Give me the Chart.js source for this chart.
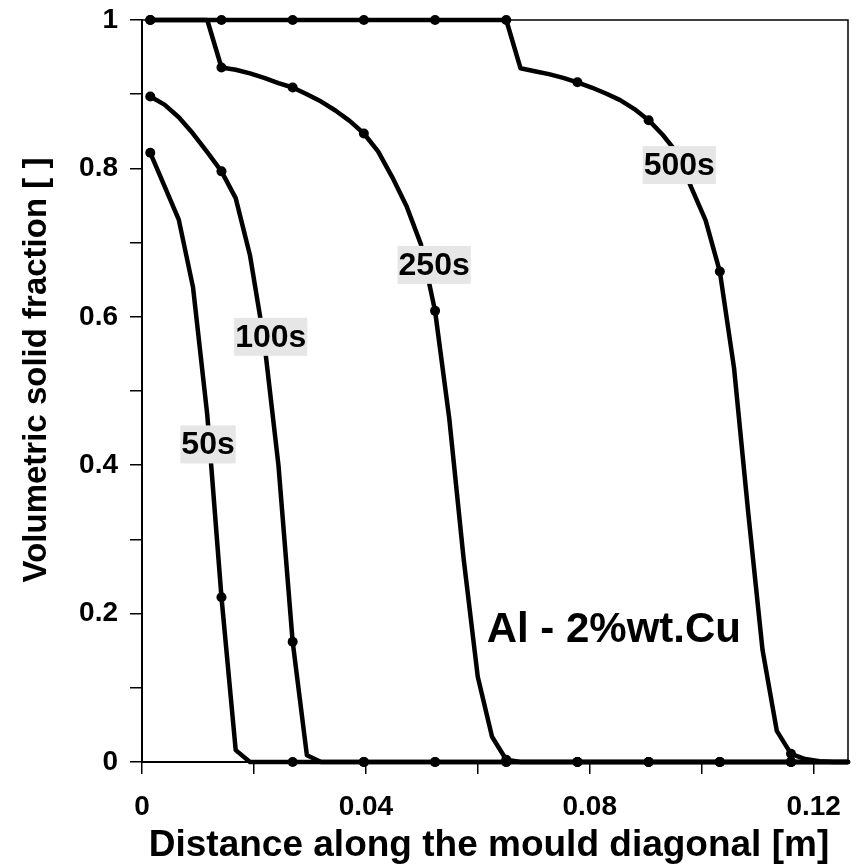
<!DOCTYPE html>
<html>
<head>
<meta charset="utf-8">
<script src="https://cdn.jsdelivr.net/npm/chart.js@4/dist/chart.umd.min.js"></script>
<style>
  html, body { margin: 0; padding: 0; background: #ffffff; }
  #wrap { width: 861px; height: 867px; position: relative; }
</style>
</head>
<body>
<div id="wrap"><canvas id="chart"></canvas></div>
<script>
// Mesh node positions along the mould diagonal [m]
const distance = [
  0.00148, 0.00402, 0.00657, 0.00911, 0.01166, 0.01420, 0.01674, 0.01929, 0.02183, 0.02438,
  0.02692, 0.02946, 0.03201, 0.03455, 0.03710, 0.03964, 0.04218, 0.04473, 0.04727, 0.04982,
  0.05236, 0.05490, 0.05745, 0.05999, 0.06254, 0.06508, 0.06762, 0.07017, 0.07271, 0.07526,
  0.07780, 0.08034, 0.08289, 0.08543, 0.08798, 0.09052, 0.09306, 0.09561, 0.09815, 0.10070,
  0.10324, 0.10578, 0.10833, 0.11087, 0.11342, 0.11596, 0.11850, 0.12105, 0.12359, 0.12614
];

// Volumetric solid fraction at each node, per solidification time
const fs50s = [
  0.821, 0.776, 0.731, 0.640, 0.468, 0.222, 0.016, 0, 0, 0,
  0, 0, 0, 0, 0, 0, 0, 0, 0, 0,
  0, 0, 0, 0, 0, 0, 0, 0, 0, 0,
  0, 0, 0, 0, 0, 0, 0, 0, 0, 0,
  0, 0, 0, 0, 0, 0, 0, 0, 0, 0
];
const fs100s = [
  0.897, 0.886, 0.869, 0.847, 0.822, 0.796, 0.760, 0.683, 0.567, 0.400,
  0.162, 0.009, 0, 0, 0, 0, 0, 0, 0, 0,
  0, 0, 0, 0, 0, 0, 0, 0, 0, 0,
  0, 0, 0, 0, 0, 0, 0, 0, 0, 0,
  0, 0, 0, 0, 0, 0, 0, 0, 0, 0
];
const fs250s = [
  1, 1, 1, 1, 1, 0.936, 0.933, 0.928, 0.922, 0.915,
  0.909, 0.900, 0.890, 0.878, 0.864, 0.847, 0.823, 0.788, 0.749, 0.698,
  0.608, 0.463, 0.275, 0.115, 0.034, 0.003, 0, 0, 0, 0,
  0, 0, 0, 0, 0, 0, 0, 0, 0, 0,
  0, 0, 0, 0, 0, 0, 0, 0, 0, 0
];
const fs500s = [
  1, 1, 1, 1, 1, 1, 1, 1, 1, 1,
  1, 1, 1, 1, 1, 1, 1, 1, 1, 1,
  1, 1, 1, 1, 1, 1, 0.935, 0.931, 0.927, 0.922,
  0.916, 0.909, 0.901, 0.892, 0.880, 0.865, 0.845, 0.821, 0.774, 0.730,
  0.661, 0.531, 0.335, 0.151, 0.042, 0.011, 0.004, 0.001, 0, 0
];

const seriesNames = ['50s', '100s', '250s', '500s'];
const xTickLabels = ['0', '0.04', '0.08', '0.12'];
const yTickLabels = ['0', '0.2', '0.4', '0.6', '0.8', '1'];
const alloyName = 'Al - 2%wt.Cu';
const xTitle = 'Distance along the mould diagonal [m]';
const yTitle = 'Volumetric solid fraction [ ]';

// Where the time tags and the alloy note sit, in axis units
const tagPlacement = {
  '50s':  { x: 0.0118, y: 0.428 },
  '100s': { x: 0.0230, y: 0.573 },
  '250s': { x: 0.0522, y: 0.670 },
  '500s': { x: 0.0960, y: 0.8045 }
};
const alloyPlacement = { x: 0.0843, y: 0.1776 };

const FONT = "'Liberation Sans', Arial, Helvetica, sans-serif";
const seriesValues = [fs50s, fs100s, fs250s, fs500s];

const datasets = seriesValues.map((vals, i) => ({
  label: seriesNames[i],
  data: distance.map((d, k) => ({ x: d, y: vals[k] })),
  borderColor: '#000000',
  backgroundColor: '#000000',
  borderWidth: 4.5,
  borderJoinStyle: 'round',
  borderCapStyle: 'round',
  tension: 0,
  clip: false,
  pointRadius: ctx => (ctx.dataIndex % 5 === 0 ? 5 : 0),
  pointBorderWidth: 0,
  pointBackgroundColor: '#000000',
  pointBorderColor: '#000000'
}));

// Thin frame on the top and right of the plot area
const framePlugin = {
  id: 'frame',
  beforeDatasetsDraw(chart) {
    const { ctx, chartArea: a } = chart;
    ctx.save();
    ctx.strokeStyle = '#000000';
    ctx.lineWidth = 1.5;
    ctx.beginPath();
    ctx.moveTo(a.left, a.top);
    ctx.lineTo(a.right, a.top);
    ctx.lineTo(a.right, a.bottom);
    ctx.stroke();
    ctx.restore();
  }
};

// Axis titles
const titlePlugin = {
  id: 'axisTitles',
  afterDraw(chart) {
    const { ctx } = chart;
    ctx.save();
    ctx.fillStyle = '#000000';
    ctx.textAlign = 'center';
    ctx.textBaseline = 'middle';
    ctx.font = 'bold 37px ' + FONT;
    ctx.fillText(xTitle, 489, 846);
    ctx.translate(37, 370);
    ctx.rotate(-Math.PI / 2);
    ctx.font = 'bold 33px ' + FONT;
    ctx.fillText(yTitle, 0, 0);
    ctx.restore();
  }
};

// Time tags on grey boxes and the alloy note
const tagPlugin = {
  id: 'tags',
  afterDatasetsDraw(chart) {
    const { ctx, scales } = chart;
    ctx.save();
    ctx.textAlign = 'center';
    ctx.textBaseline = 'middle';
    ctx.font = 'bold 32px ' + FONT;
    seriesNames.forEach(name => {
      const p = tagPlacement[name];
      const cx = scales.x.getPixelForValue(p.x);
      const cy = scales.y.getPixelForValue(p.y);
      const w = ctx.measureText(name).width + 2;
      const h = 38;
      ctx.fillStyle = '#e6e6e6';
      ctx.fillRect(cx - w / 2, cy - h / 2, w, h);
      ctx.fillStyle = '#000000';
      ctx.fillText(name, cx, cy + 1);
    });
    ctx.font = 'bold 42px ' + FONT;
    ctx.fillStyle = '#000000';
    ctx.fillText(alloyName,
      scales.x.getPixelForValue(alloyPlacement.x),
      scales.y.getPixelForValue(alloyPlacement.y));
    ctx.restore();
  }
};

new Chart(document.getElementById('chart'), {
  type: 'line',
  data: { datasets },
  plugins: [framePlugin, tagPlugin, titlePlugin],
  options: {
    responsive: true,
    maintainAspectRatio: false,
    animation: false,
    events: [],
    layout: { padding: { top: 20, right: 13, bottom: 0, left: 0 } },
    plugins: { legend: { display: false }, tooltip: { enabled: false } },
    scales: {
      x: {
        type: 'linear',
        min: 0,
        max: distance[distance.length - 1],
        afterFit(scale) { scale.height = 105; scale.paddingLeft = 0; scale.paddingRight = 0; },
        border: { display: true, color: '#000000', width: 2 },
        grid: { drawOnChartArea: false, drawTicks: true, tickLength: 12, color: '#000000', lineWidth: 1.5 },
        ticks: {
          stepSize: 0.02,
          includeBounds: false,
          autoSkip: false,
          maxRotation: 0,
          padding: 16,
          color: '#000000',
          font: { family: FONT, size: 28, weight: 'bold' },
          callback: (v, i) => (i % 2 === 0 ? xTickLabels[i / 2] : '')
        },
        title: { display: false }
      },
      y: {
        type: 'linear',
        min: 0,
        max: 1,
        afterFit(scale) { scale.width = 142; scale.paddingTop = 0; scale.paddingBottom = 0; },
        border: { display: true, color: '#000000', width: 2 },
        grid: { drawOnChartArea: false, drawTicks: true, tickLength: 12, color: '#000000', lineWidth: 1.5 },
        ticks: {
          stepSize: 0.1,
          autoSkip: false,
          padding: 12,
          color: '#000000',
          font: { family: FONT, size: 28, weight: 'bold' },
          callback: (v, i) => (i % 2 === 0 ? yTickLabels[i / 2] : '')
        },
        title: { display: false }
      }
    }
  }
});
</script>
</body>
</html>
